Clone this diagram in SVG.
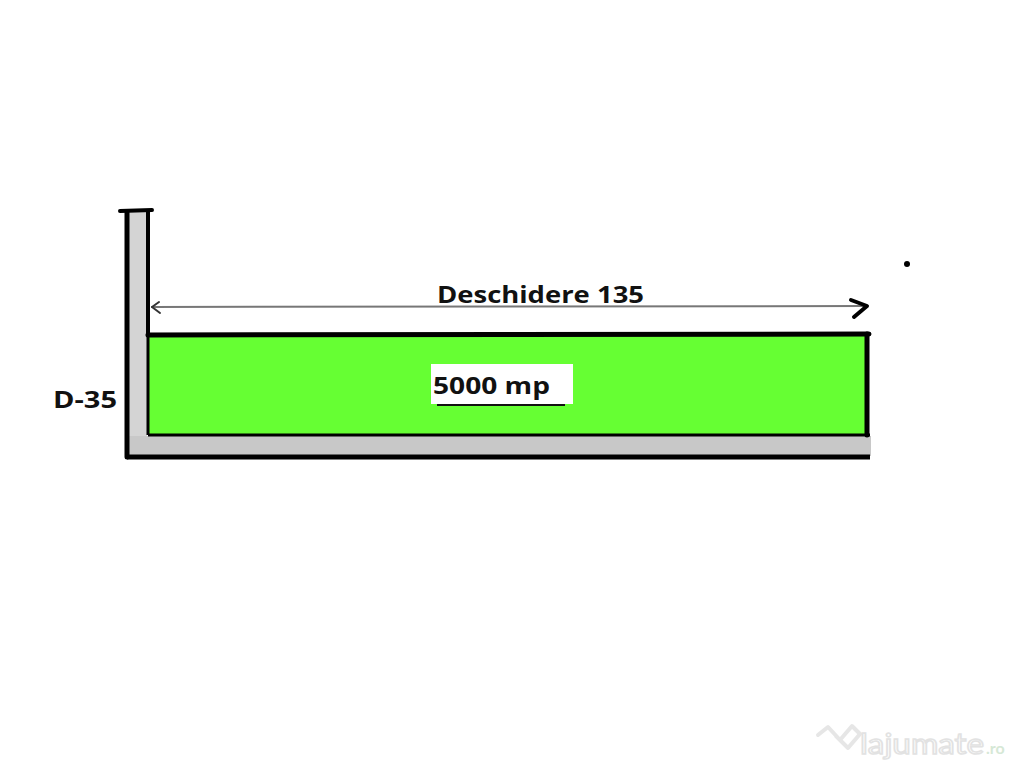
<svg xmlns="http://www.w3.org/2000/svg" width="1024" height="768" viewBox="0 0 1024 768">
<style>
.lbl{font-family:"Open Sans","Liberation Sans",sans-serif;font-weight:bold;font-size:23px;fill:#111}
.blk{stroke:#000;fill:none;stroke-linecap:round}
</style>
<rect width="1024" height="768" fill="#ffffff"/>
<g id="wall">
<rect x="129" y="212" width="18" height="244" fill="#d4d4d4"/>
<rect x="129" y="436" width="742" height="20" fill="#c8c8c8"/>
<line class="blk" x1="127" y1="212" x2="127" y2="457" stroke-width="5"/>
<line class="blk" x1="148" y1="212" x2="148" y2="334" stroke-width="4"/>
<line class="blk" x1="120" y1="211" x2="152" y2="210" stroke-width="4"/>
<line x1="127" y1="457" x2="870" y2="457" stroke="#000" stroke-width="5"/>
</g>
<g id="plot">
<rect x="148" y="335" width="719" height="100" fill="#66ff33"/>
<line class="blk" x1="148" y1="335" x2="869" y2="334" stroke-width="5"/>
<line x1="148" y1="435" x2="870" y2="435" stroke="#000" stroke-width="3"/>
<line x1="148" y1="335" x2="148" y2="435" stroke="#000" stroke-width="3"/>
<line class="blk" x1="867" y1="334" x2="867" y2="435" stroke-width="5"/>
<rect x="431" y="364" width="142" height="40" fill="#ffffff"/>
<text class="lbl" x="433" y="394" textLength="117" lengthAdjust="spacingAndGlyphs">5000 mp</text>
<line x1="437" y1="405" x2="565" y2="405" stroke="#111" stroke-width="2"/>
</g>
<g id="connectors">
<line x1="151" y1="307" x2="866" y2="306" stroke="#777" stroke-width="2"/>
<polyline points="159,302 152,307 160,313" fill="none" stroke="#333" stroke-width="2" stroke-linecap="round" stroke-linejoin="round"/>
<polyline points="851,300 867,306 854,317" fill="none" stroke="#000" stroke-width="4" stroke-linecap="round" stroke-linejoin="round"/>
</g>
<g id="labels">
<text class="lbl" x="437" y="303" textLength="207" lengthAdjust="spacingAndGlyphs">Deschidere 135</text>
<text class="lbl" x="53" y="408" textLength="64" lengthAdjust="spacingAndGlyphs">D-35</text>
<circle cx="907" cy="264" r="3" fill="#000"/>
</g>
<g id="watermark">
<polyline points="818,735 828,727 840,740 852,726 860,734 848,748 836,736" fill="none" stroke="#e6e6e6" stroke-width="4" stroke-linejoin="round" stroke-linecap="round"/>
<text x="860" y="754" font-family="Lato,'Liberation Sans',sans-serif" font-size="28" fill="none" stroke="#e2e2e2" stroke-width="1.5" textLength="124" lengthAdjust="spacingAndGlyphs">lajumate</text>
<text x="986" y="754" font-family="Lato,'Liberation Sans',sans-serif" font-size="16" font-weight="bold" fill="#d6e8d6">.ro</text>
</g>
</svg>
